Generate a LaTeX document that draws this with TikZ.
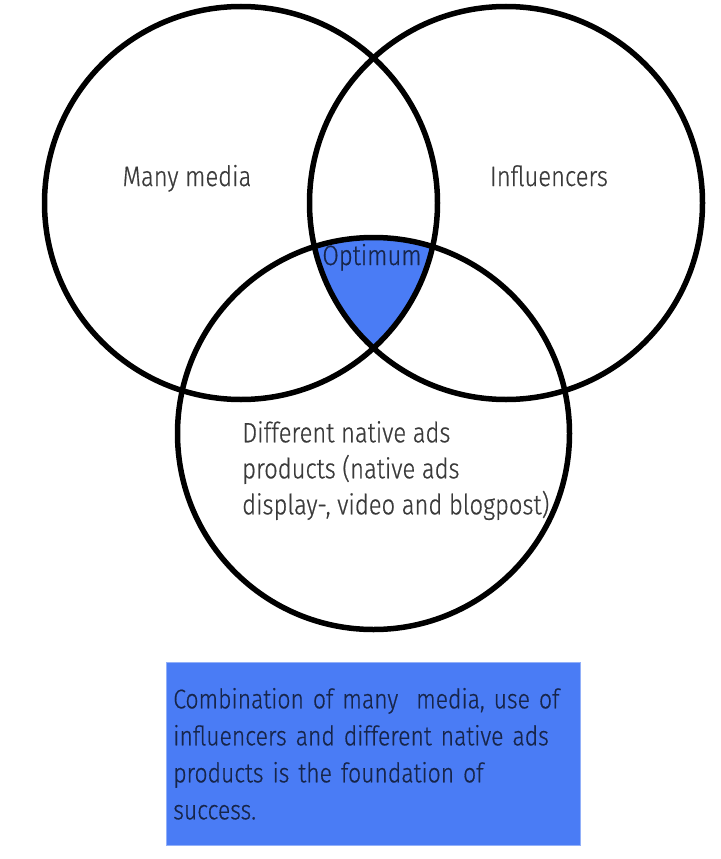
\documentclass[tikz,border=0pt]{standalone}
\usepackage{fontspec}
\setmainfont{Fira Sans Light}[FakeStretch=0.85, FakeBold=0.6]
\usepackage{tikz}
\definecolor{optblue}{HTML}{4A7CF5}
\definecolor{labelgray}{HTML}{3A3A3A}
\definecolor{boxtext}{HTML}{17254A}

\begin{document}
\begin{tikzpicture}[x=1pt, y=-1pt,
  venn/.style={line width=5.5pt},
  lbl/.style={text=labelgray, inner sep=0pt, font=\fontsize{28}{36}\selectfont}]
\useasboundingbox (0,0) rectangle (720,859);
\coordinate (cmedia) at (241,203);
\coordinate (cinfl) at (506,203);
\coordinate (cprod) at (373.5,433.5);
\begin{scope}
\clip (cmedia) circle[radius=196.5pt];
\clip (cinfl) circle[radius=196.5pt];
\fill[optblue] (cprod) circle[radius=196pt];
\end{scope}
\draw[venn] (cmedia) circle[radius=196.5pt];
\draw[venn] (cinfl) circle[radius=196.5pt];
\draw[venn] (cprod) circle[radius=196pt];
\node[lbl, anchor=base] (media) at (187,186) {Many media};
\node[lbl, anchor=base] (infl) at (549,186) {Influencers};
\node[lbl, anchor=base, text=boxtext] (optimum) at (372,265) {Optimum};
\node[lbl, anchor=north west, align=left] (products) at (242,421)
  {Different native ads\\products (native ads\\display-, video and blogpost)};
\node[fill=optblue, draw=optblue!60!white, line width=0.6pt, anchor=north west,
  minimum width=414pt, minimum height=183pt, text width=400pt, inner xsep=7pt,
  align=left, text=boxtext, font=\fontsize{27}{37}\selectfont] (summary) at (166,662)
  {Combination of many\ \ media, use of\\influencers and different native ads\\products is the foundation of\\success.};
\end{tikzpicture}
\end{document}
